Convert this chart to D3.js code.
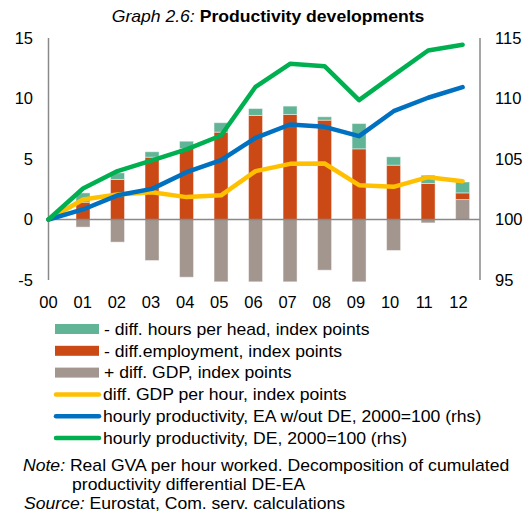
<!DOCTYPE html>
<html>
<head>
<meta charset="utf-8">
<script src="https://cdnjs.cloudflare.com/ajax/libs/d3/7.8.5/d3.min.js"></script>
<style>
  body { margin: 0; background: #fff; }
  text { font-family: "Liberation Sans", Arial, sans-serif; fill: #000; }
</style>
</head>
<body>
<svg id="chart" width="529" height="516"></svg>
<script>
"use strict";

// data
const years = ["00", "01", "02", "03", "04", "05", "06", "07", "08", "09", "10", "11", "12"];
const gdpDiff   = [0, -0.63, -1.87, -3.39, -4.77, -5.15, -5.15, -5.15, -4.19, -5.15, -2.56, -0.28, 1.65];
const empDiff   = [0, 1.43, 3.31, 5.15, 5.87, 7.22, 8.60, 8.68, 8.21, 5.84, 4.49, 2.98, 0.55];
const hoursDiff = [0, 0.77, 0.55, 0.45, 0.60, 0.78, 0.57, 0.69, 0.28, 2.09, 0.69, 0.68, 0.90];
const gdpPerHour = [0, 1.65, 2.07, 2.26, 1.85, 2.00, 4.00, 4.60, 4.63, 2.84, 2.70, 3.50, 3.17];
const prodEA = [100, 100.83, 102.0, 102.53, 103.91, 104.9, 106.75, 107.85, 107.66, 106.89, 108.95, 110.06, 110.94];
const prodDE = [100, 102.56, 104.0, 104.88, 105.79, 106.94, 110.97, 112.87, 112.67, 109.86, 111.93, 113.97, 114.44];
const leftTicks = [-5, 0, 5, 10, 15];
const rightTicks = [95, 100, 105, 110, 115];

const svg = d3.select("#chart");

const x = d3.scaleLinear().domain([0, years.length - 1]).range([48.5, 462.6]);
const yL = d3.scaleLinear().domain([-5, 15]).range([280, 38]);
const yR = d3.scaleLinear().domain([95, 115]).range([280, 38]);

const colors = {
  hours: "#62b497",
  emp: "#cb4915",
  gdp: "#a3968f",
  gdpHour: "#ffc000",
  ea: "#0070c0",
  de: "#00b050"
};

// the source text is a bit wider than Arial, stretch it
const wide = 1.1;
const placeText = (x0, y0) => `translate(${x0},${y0}) scale(${wide},1)`;

// title
const title = svg.append("text")
  .attr("transform", placeText(268, 22))
  .attr("text-anchor", "middle")
  .style("font-size", "16px");
title.append("tspan").style("font-style", "italic").text("Graph 2.6: ");
title.append("tspan").style("font-weight", "bold").text("Productivity developments");

// stacked bars
const rows = years.map((yr, i) => ({i: i, gdp: gdpDiff[i], emp: empDiff[i], hours: hoursDiff[i]}));
const stack = d3.stack().keys(["gdp", "emp", "hours"]).offset(d3.stackOffsetDiverging);
const series = stack(rows);

const barW = 14;
svg.append("g").selectAll("g")
  .data(series)
  .join("g")
  .attr("fill", d => colors[d.key])
  .selectAll("rect")
  .data(d => d)
  .join("rect")
  .attr("x", d => x(d.data.i) - barW / 2)
  .attr("width", barW)
  .attr("y", d => yL(Math.max(d[0], d[1])))
  .attr("height", d => Math.abs(yL(d[0]) - yL(d[1])))
  .attr("stroke", "#fff")
  .attr("stroke-opacity", 0.45)
  .attr("stroke-width", 1);

// axes
const axisColor = "#898989";
svg.append("line")
  .attr("x1", x(0)).attr("x2", 480)
  .attr("y1", yL(0)).attr("y2", yL(0))
  .attr("stroke", axisColor).attr("stroke-width", 1.5);
svg.append("line")
  .attr("x1", x(0)).attr("x2", x(0))
  .attr("y1", yL(15)).attr("y2", yL(-5))
  .attr("stroke", axisColor).attr("stroke-width", 1.5);
svg.append("line")
  .attr("x1", 480).attr("x2", 480)
  .attr("y1", yR(115)).attr("y2", yR(95))
  .attr("stroke", axisColor).attr("stroke-width", 1.5);

svg.append("g").selectAll("text")
  .data(leftTicks)
  .join("text")
  .attr("x", 33).attr("y", d => yL(d))
  .attr("dy", "0.36em")
  .attr("text-anchor", "end")
  .style("font-size", "16.5px")
  .text(d => d);

svg.append("g").selectAll("text")
  .data(rightTicks)
  .join("text")
  .attr("x", 495).attr("y", d => yR(d))
  .attr("dy", "0.36em")
  .style("font-size", "16.5px")
  .text(d => d);

svg.append("g").selectAll("text")
  .data(years)
  .join("text")
  .attr("x", (d, i) => x(i) - i * 0.35)
  .attr("y", 308)
  .attr("text-anchor", "middle")
  .style("font-size", "16.5px")
  .text(d => d);

// lines
const lineOf = (vals, scale) => d3.line()
  .x((d, i) => x(i))
  .y(d => scale(d))(vals);

const lines = [
  {vals: gdpPerHour, scale: yL, color: colors.gdpHour},
  {vals: prodEA, scale: yR, color: colors.ea},
  {vals: prodDE, scale: yR, color: colors.de}
];
svg.append("g").selectAll("path")
  .data(lines)
  .join("path")
  .attr("d", d => lineOf(d.vals, d.scale))
  .attr("fill", "none")
  .attr("stroke", d => d.color)
  .attr("stroke-width", 4.5)
  .attr("stroke-linejoin", "round")
  .attr("stroke-linecap", "round");

// legend
const legendItems = [
  {label: "- diff. hours per head, index points", color: colors.hours, type: "rect"},
  {label: "- diff.employment, index points", color: colors.emp, type: "rect"},
  {label: "+ diff. GDP, index points", color: colors.gdp, type: "rect"},
  {label: "diff. GDP per hour, index points", color: colors.gdpHour, type: "line"},
  {label: "hourly productivity, EA w/out DE, 2000=100 (rhs)", color: colors.ea, type: "line"},
  {label: "hourly productivity, DE, 2000=100 (rhs)", color: colors.de, type: "line"}
];
const legend = svg.append("g").selectAll("g")
  .data(legendItems)
  .join("g")
  .attr("transform", (d, i) => `translate(0, ${329 + i * 21.8})`);
legend.filter(d => d.type === "rect").append("rect")
  .attr("x", 55).attr("y", -5).attr("width", 44).attr("height", 10)
  .attr("fill", d => d.color);
legend.filter(d => d.type === "line").append("line")
  .attr("x1", 56).attr("x2", 99).attr("y1", 0).attr("y2", 0)
  .attr("stroke", d => d.color).attr("stroke-width", 4.5)
  .attr("stroke-linecap", "round");
legend.append("text")
  .attr("transform", d => placeText(d.type === "rect" ? 104 : 103, 0))
  .attr("dy", "0.36em")
  .style("font-size", "16px")
  .text(d => d.label);

// notes
const note = svg.append("text").attr("transform", placeText(23, 471)).style("font-size", "16px");
note.append("tspan").style("font-style", "italic").text("Note:");
note.append("tspan").text(" Real GVA per hour worked. Decomposition of cumulated");
svg.append("text").attr("transform", placeText(72, 490)).style("font-size", "16px")
  .text("productivity differential DE-EA");
const source = svg.append("text").attr("transform", placeText(24, 509)).style("font-size", "16px");
source.append("tspan").style("font-style", "italic").text("Source:");
source.append("tspan").text(" Eurostat, Com. serv. calculations");
</script>
</body>
</html>
